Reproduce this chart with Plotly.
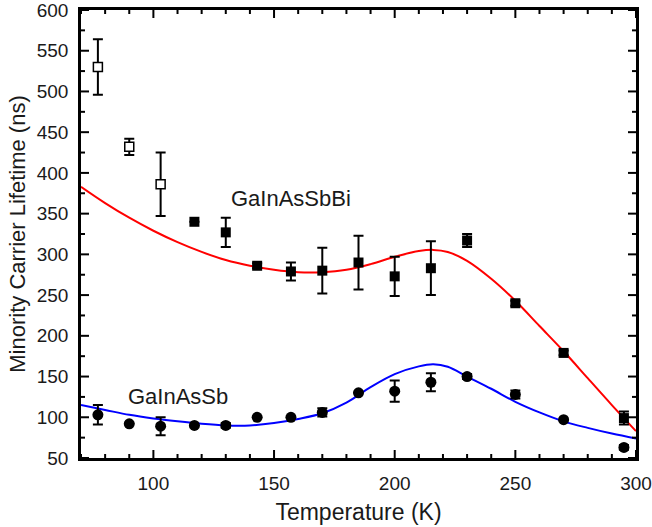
import plotly.graph_objects as go

# ---- data ----
# GaInAsSbBi (open squares = low-T points)
bi_open_T = [77, 90, 103]
bi_open_tau = [530, 432, 386]
bi_open_err = [34, 10, 39]

bi_T = [117, 130, 143, 157, 170, 185, 200, 215, 230, 250, 270, 295]
bi_tau = [340, 327, 286, 279, 280, 290, 273, 283, 317, 240, 179, 99]
bi_err = [0, 18, 3, 11, 28, 33, 24, 33, 8, 3, 3, 8]

# GaInAsSb (filled circles)
sb_T = [77, 90, 103, 117, 130, 143, 157, 170, 185, 200, 215, 230, 250, 270, 295]
sb_tau = [103, 92, 89, 90, 90, 100, 100, 106, 130, 132, 143, 150, 128, 97, 63]
sb_err = [12, 0, 11, 0, 3, 0, 0, 5, 0, 13, 11, 3, 5, 0, 3]

# fitted curves
fit_T = [70, 80, 90, 100, 110, 120, 130, 140, 150, 160, 170, 180, 190,
         200, 210, 216, 222, 230, 240, 250, 260, 270, 280, 290, 300]
fit_bi = [383, 363, 345, 329, 315, 303, 293, 286, 281, 278, 278, 281, 288,
          297, 304, 305.5, 303, 292, 270, 243, 212, 181, 148, 115, 83]
fit_sb = [115, 109, 103, 98.5, 95, 92, 90, 90, 93, 98, 105, 118, 137,
          153, 162.5, 165, 162, 150, 135, 119, 106, 95, 87, 80, 74]

labels = ["GaInAsSbBi", "GaInAsSb"]
label_T = [157, 110]
label_tau = [369, 125]

x_range = [70, 300]
y_range = [50, 600]
x_major, x_minor = 50, 10
y_major, y_minor = 50, 25

FONT = "Liberation Sans, Arial, sans-serif"
TXT = "#1a1a1a"

fig = go.Figure()
fig.add_trace(go.Scatter(x=fit_T, y=fit_bi, mode="lines", line=dict(color="#ff0000", width=2, shape="spline"), showlegend=False))
fig.add_trace(go.Scatter(x=fit_T, y=fit_sb, mode="lines", line=dict(color="#0000ff", width=2, shape="spline"), showlegend=False))

eb = dict(type="data", thickness=2, width=5, color="black")
fig.add_trace(go.Scatter(x=bi_open_T, y=bi_open_tau, mode="markers",
                         error_y=dict(array=bi_open_err, **eb),
                         marker=dict(symbol="square", size=9, color="white", line=dict(color="black", width=1.5)),
                         showlegend=False))
fig.add_trace(go.Scatter(x=bi_T, y=bi_tau, mode="markers",
                         error_y=dict(array=bi_err, **eb),
                         marker=dict(symbol="square", size=10, color="black"),
                         showlegend=False))
fig.add_trace(go.Scatter(x=sb_T, y=sb_tau, mode="markers",
                         error_y=dict(array=sb_err, **eb),
                         marker=dict(symbol="circle", size=11, color="black"),
                         showlegend=False))

for txt, tx, ty in zip(labels, label_T, label_tau):
    fig.add_annotation(x=tx, y=ty, text=txt, showarrow=False,
                       font=dict(family=FONT, size=22, color=TXT))

# inward-pointing major/minor ticks on all four sides (pixel-sized shapes anchored on axis values)
tick_line = dict(color="black", width=2)
for v in range(x_range[0], x_range[1] + 1, x_minor):
    L = 8 if v % x_major == 0 else 4
    for anchor, sgn in ((0, 1), (1, -1)):
        fig.add_shape(type="line", xref="x", yref="paper", ysizemode="pixel", yanchor=anchor,
                      x0=v, x1=v, y0=0, y1=sgn * L, line=tick_line, layer="above")
for v in range(y_range[0], y_range[1] + 1, y_minor):
    L = 8 if v % y_major == 0 else 4
    for anchor, sgn in ((0, 1), (1, -1)):
        fig.add_shape(type="line", xref="paper", yref="y", xsizemode="pixel", xanchor=anchor,
                      y0=v, y1=v, x0=0, x1=sgn * L, line=tick_line, layer="above")

fig.update_layout(
    width=652, height=527, margin=dict(l=81, r=16, t=10, b=69, autoexpand=False),
    plot_bgcolor="white", paper_bgcolor="white",
    xaxis=dict(range=x_range, tick0=0, dtick=x_major,
               showline=True, linecolor="black", linewidth=2.5, mirror=True,
               ticks="outside", ticklen=6, tickcolor="rgba(0,0,0,0)",
               showgrid=False, zeroline=False, ticklabeloverflow="allow",
               tickfont=dict(family=FONT, size=19, color=TXT),
               title=dict(text="Temperature (K)", font=dict(family=FONT, size=23, color=TXT), standoff=12)),
    yaxis=dict(range=y_range, tick0=0, dtick=y_major,
               showline=True, linecolor="black", linewidth=2.5, mirror=True,
               ticks="outside", ticklen=6, tickcolor="rgba(0,0,0,0)",
               showgrid=False, zeroline=False, ticklabeloverflow="allow",
               tickfont=dict(family=FONT, size=19, color=TXT),
               title=dict(text="Minority Carrier Lifetime (ns)", font=dict(family=FONT, size=22, color=TXT), standoff=6)),
)

fig.write_html("out.html")
